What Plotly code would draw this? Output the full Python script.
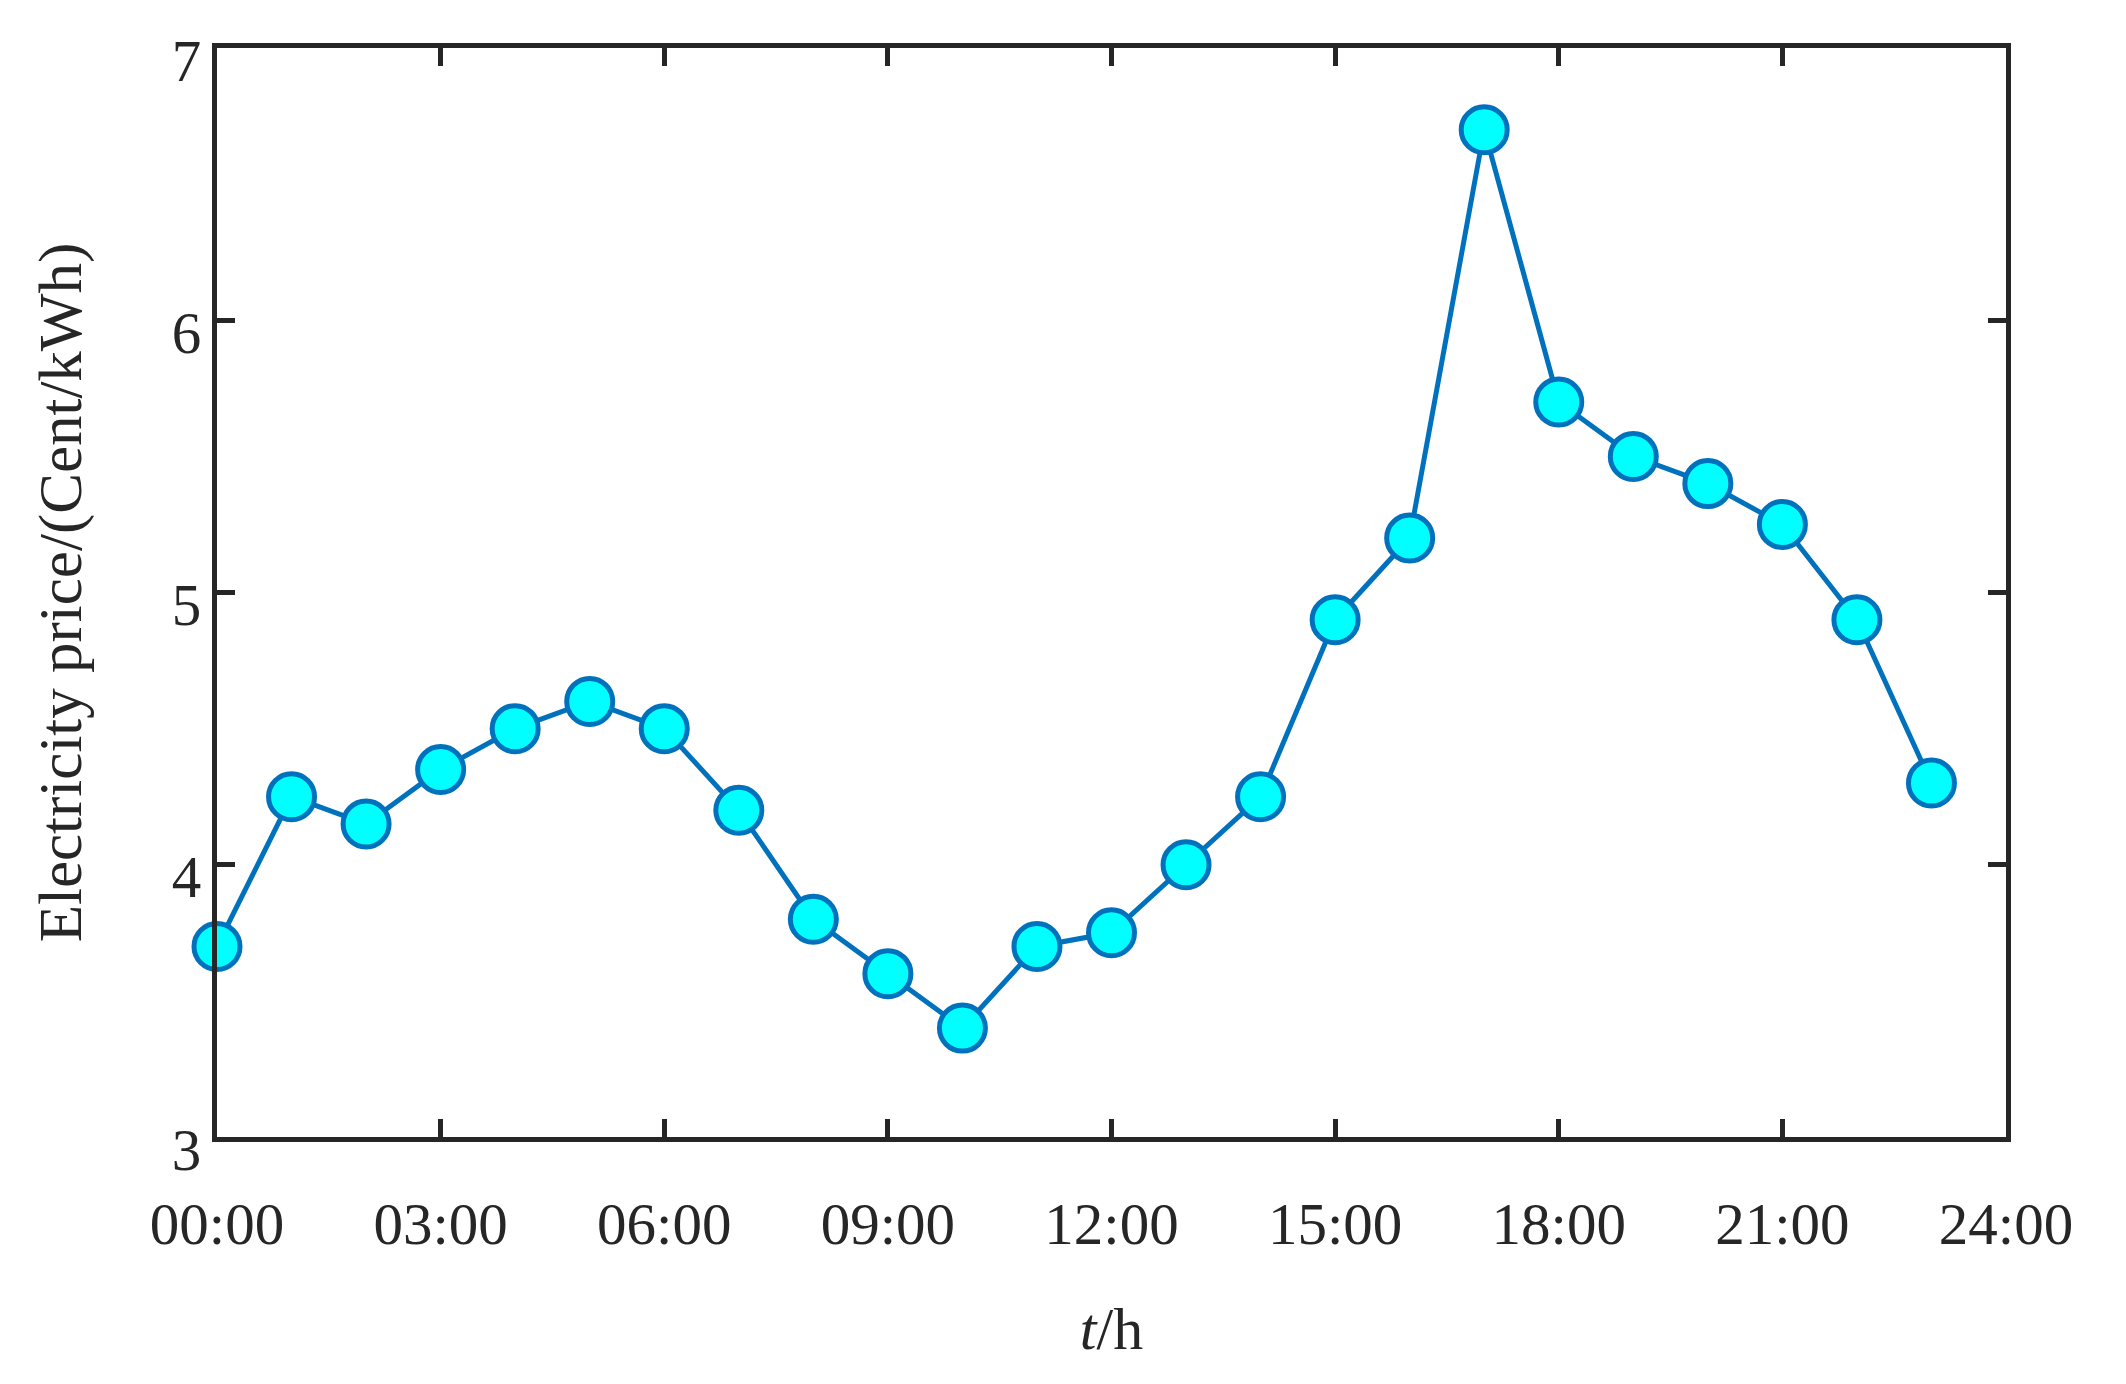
'''
    Hourly electricity price line chart with circle markers.
'''

import plotly.graph_objects as go

hours = list(range(24))
price = [3.70, 4.25, 4.15, 4.35, 4.50, 4.60, 4.50, 4.20, 3.80, 3.60, 3.40, 3.70,
         3.75, 4.00, 4.25, 4.90, 5.20, 6.70, 5.70, 5.50, 5.40, 5.25, 4.90, 4.30]

x_tickvals = [0, 3, 6, 9, 12, 15, 18, 21, 24]
x_ticktext = ['00:00', '03:00', '06:00', '09:00', '12:00', '15:00', '18:00', '21:00', '24:00']
y_tickvals = [3, 4, 5, 6, 7]

INK = '#262626'
FONT = 'Liberation Serif, Times New Roman, serif'

fig = go.Figure()
fig.add_trace(go.Scatter(
    x=hours, y=price, mode='lines+markers',
    line=dict(color='#0072BD', width=5),
    marker=dict(size=46, color='#00FFFF', line=dict(color='#0072BD', width=5)),
    cliponaxis=False,
))

# MATLAB-like boxed axes with inward ticks
axis_style = dict(
    showline=True, linewidth=5, linecolor=INK, mirror='ticks',
    ticks='inside', ticklen=18, tickwidth=5, tickcolor=INK,
    showgrid=False, zeroline=False,
    tickfont=dict(family=FONT, size=59, color=INK),
)

fig.update_xaxes(axis_style, range=[0, 24], tickvals=x_tickvals, ticktext=x_ticktext,
                 ticklabelstandoff=31,
                 title=dict(text='<i>t</i>/h', font=dict(family=FONT, size=60, color=INK), standoff=53))
fig.update_yaxes(axis_style, range=[3, 7], tickvals=y_tickvals,
                 ticklabelstandoff=-1, ticklabelshift=12,
                 title=dict(text='Electricity price/(Cent/kWh)',
                            font=dict(family=FONT, size=61, color=INK), standoff=72))

fig.update_layout(
    width=2126, height=1384,
    margin=dict(l=217, r=120, t=48, b=247, autoexpand=False),
    plot_bgcolor='white', paper_bgcolor='white',
    showlegend=False,
)

# drop the default page margin so the figure sits at the window origin
fig.write_html("out.html", config={'displayModeBar': False},
               post_script="document.body.style.margin='0';")
